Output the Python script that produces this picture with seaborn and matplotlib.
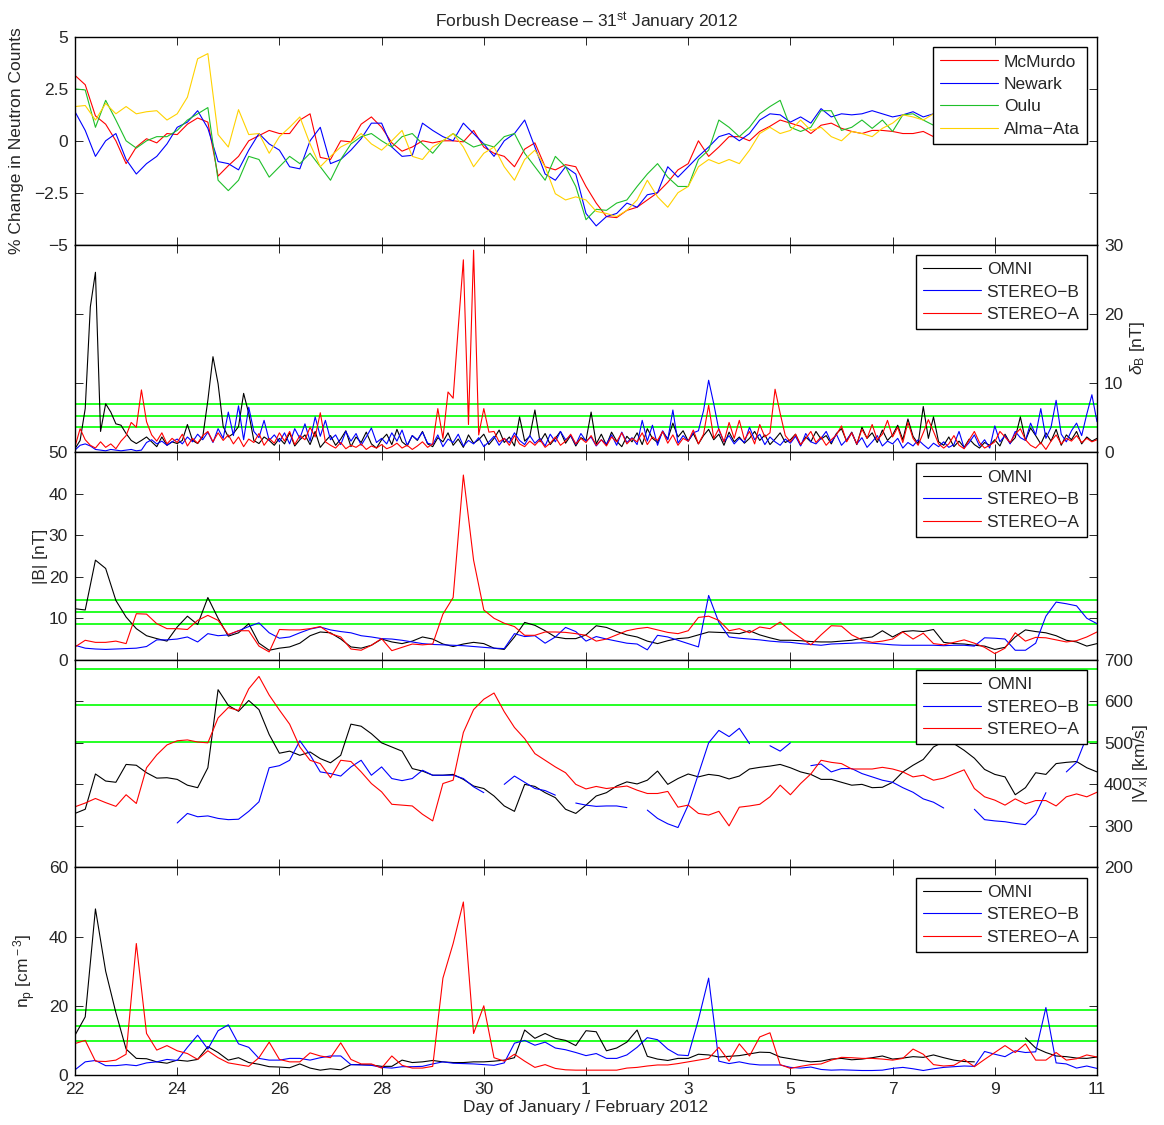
import numpy as np
import pandas as pd
import matplotlib
matplotlib.use('Agg')
from matplotlib import pyplot as plt
from matplotlib.lines import Line2D
import seaborn as sns

# Time axes (day of January 2012, Feb = 32..)
t_nm = np.round(np.arange(22.0, 39.001, 0.2), 1)
t_fine = np.round(np.arange(22.0, 42.001, 0.1), 1)
t_sw = np.round(np.arange(22.0, 42.001, 0.2), 1)

x_ticks = [22, 24, 26, 28, 30, 32, 34, 36, 38, 40, 42]
x_ticklabels = ['22', '24', '26', '28', '30', '1', '3', '5', '7', '9', '11']

# Panel 1: neutron monitor % change
mcmurdo = [
    3.15, 2.7, 1.2, 0.8, 0.0, -1.1, -0.3, 0.1, -0.1, 0.35,
    0.3, 0.8, 1.1, 0.9, -1.7, -1.2, -0.75, 0.0, 0.25, 0.5,
    0.35, 0.35, 1.0, 1.3, -0.8, -0.9, 0.0, -0.05, 0.8, 1.15,
    0.65, -0.1, -0.5, -0.3, 0.0, -0.1, 0.0, 0.0, -0.05, 0.5,
    -0.3, -0.6, -0.75, -1.25, -0.4, -0.1, -1.25, -1.4, -1.15, -1.25,
    -2.2, -3.0, -3.65, -3.7, -3.35, -3.2, -2.85, -2.5, -2.0, -1.4,
    -1.1, 0.0, -0.75, -0.3, 0.2, 0.2, 0.0, 0.45, 0.7, 1.0,
    0.85, 0.7, 0.35, 0.75, 0.85, 0.6, 0.45, 0.35, 0.5, 0.5,
    0.45, 0.35, 0.35, 0.45, 0.2, 0.0]
newark = [
    1.4, 0.5, -0.75, 0.0, 0.35, -0.9, -1.6, -1.1, -0.75, -0.15,
    0.65, 0.9, 1.45, 0.6, -1.0, -1.1, -1.4, -0.45, 0.35, -0.15,
    -0.45, -1.25, -1.35, 0.0, 0.65, -1.1, -0.9, -0.45, 0.1, 0.85,
    0.85, -0.3, -0.75, -0.7, 0.85, 0.5, 0.2, 0.0, 0.85, 0.35,
    -0.15, -0.75, 0.0, 0.35, 1.0, -0.3, -1.6, -1.9, -1.25, -1.6,
    -3.5, -4.1, -3.65, -3.5, -3.0, -3.2, -2.6, -2.5, -1.25, -1.75,
    -1.25, -0.75, -0.3, 0.2, 0.35, 0.0, 0.35, 1.0, 1.3, 1.25,
    0.9, 1.15, 0.85, 1.55, 1.15, 1.3, 1.25, 1.3, 1.45, 1.3,
    1.15, 1.25, 1.4, 1.15, 1.3, 1.25]
oulu = [
    2.5, 2.45, 0.65, 1.95, 1.0, 0.0, -0.35, 0.0, 0.2, 0.2,
    0.5, 1.0, 1.3, 1.6, -1.9, -2.4, -1.9, -0.75, -0.9, -1.75,
    -1.25, -0.75, -1.1, -0.6, -1.25, -1.9, -0.9, -0.15, 0.2, 0.35,
    0.0, -0.3, 0.2, 0.35, -0.15, -0.6, 0.0, 0.35, 0.0, -0.3,
    -0.15, -0.3, 0.2, 0.35, -0.6, -1.25, -1.9, -0.75, -1.25, -2.2,
    -3.8, -3.3, -3.35, -3.0, -2.85, -2.2, -1.6, -1.1, -1.75, -2.2,
    -2.2, -0.9, -0.45, 1.0, 0.65, 0.2, 0.65, 1.3, 1.65, 1.95,
    0.65, 0.45, 0.65, 1.45, 1.45, 0.5, 0.65, 1.0, 0.6, 1.0,
    0.45, 1.25, 1.3, 1.0, 0.75, 0.85]
alma_ata = [
    1.65, 1.7, 1.0, 1.8, 1.3, 1.65, 1.3, 1.4, 1.45, 1.0,
    1.3, 2.1, 3.95, 4.2, 0.3, -0.3, 1.5, 0.3, 0.35, -0.6,
    0.2, 0.65, 1.15, -0.15, -1.25, -0.75, -0.3, -0.05, 0.35, -0.15,
    -0.45, 0.0, 0.5, -0.75, -0.9, -0.3, 0.0, 0.35, -0.3, -1.25,
    -0.6, -0.3, -1.25, -1.9, -0.9, -0.45, -1.25, -2.55, -2.85, -2.7,
    -2.85, -3.4, -3.5, -3.65, -3.35, -2.85, -1.9, -2.7, -3.2, -2.5,
    -2.2, -1.25, -0.9, -1.1, -0.9, -1.1, -0.45, 0.35, 0.65, 0.35,
    0.5, 1.0, 0.5, 0.65, 0.2, 0.0, 0.45, 0.35, 0.2, 0.6,
    0.85, 1.25, 1.15, 1.0, 1.3, 1.15]

# Panel 2: delta B [nT] (0.1 day steps)
db_omni = [
    0.5, 1.7, 6.3, 21.0, 26.0, 3.0, 7.0, 5.8, 4.1, 3.9,
    2.7, 1.7, 1.25, 1.7, 2.2, 1.5, 0.8, 2.2, 1.0, 1.5,
    1.25, 1.7, 4.0, 1.7, 1.25, 2.2, 7.5, 13.8, 9.9, 3.7,
    2.2, 2.7, 3.7, 8.5, 5.6, 1.7, 1.25, 2.2, 1.7, 1.0,
    2.0, 1.2, 2.8, 0.9, 1.8, 2.5, 1.1, 3.0, 0.7, 1.6,
    2.4, 1.0, 1.9, 3.1, 0.8, 2.2, 1.4, 2.9, 1.2, 0.6,
    1.8, 2.6, 1.1, 3.3, 1.5, 0.9, 2.4, 1.7, 3.0, 1.2,
    0.8, 2.1, 1.5, 2.8, 1.0, 1.9, 0.7, 2.5, 1.3, 1.8,
    2.6, 1.1, 2.0, 3.2, 1.4, 2.2, 0.9, 5.1, 1.6, 2.3,
    6.1, 1.5, 2.7, 1.1, 2.0, 3.0, 1.3, 2.4, 0.9, 2.1,
    1.7, 5.8, 1.2, 2.6, 1.0, 2.9, 1.6, 0.8, 2.3, 1.5,
    2.8, 1.1, 3.4, 2.0, 1.4, 3.0, 1.9, 4.2, 2.2, 3.1,
    1.6, 2.7, 1.2, 2.4, 3.3, 1.8, 2.6, 1.0, 2.9, 1.5,
    2.2, 1.3, 2.0, 3.0, 1.7, 2.5, 1.1, 1.9, 2.8, 1.4,
    1.8, 2.6, 1.0, 2.2, 1.5, 3.0, 1.9, 2.4, 1.2, 2.7,
    3.4, 1.6, 2.9, 1.1, 3.6, 2.0, 2.8, 1.4, 3.2, 1.7,
    2.5, 3.9, 1.8, 4.8, 2.3, 1.2, 6.6, 2.0, 5.1, 1.5,
    1.0, 2.2, 0.8, 1.6, 0.7, 1.9, 1.1, 0.6, 1.4, 1.0,
    1.8, 0.9, 2.6, 1.3, 2.1, 5.1, 1.7, 3.5, 2.4, 1.2,
    2.8, 1.6, 3.3, 1.0, 2.5, 1.8, 3.0, 1.2, 2.2, 1.6,
    2.0]
db_stb = [
    0.3, 1.0, 1.2, 0.9, 0.4, 0.3, 0.2, 0.4, 0.3, 0.2,
    0.3, 0.4, 0.2, 0.3, 1.4, 1.8, 1.2, 1.6, 1.0, 1.5,
    1.9, 1.2, 2.2, 1.5, 2.6, 1.8, 2.9, 1.4, 3.4, 2.0,
    5.8, 2.4, 6.7, 1.8, 6.5, 3.0, 2.1, 4.6, 1.7, 2.5,
    1.5, 2.8, 1.2, 3.4, 2.0, 4.1, 1.6, 5.1, 2.3, 4.6,
    1.8, 2.5, 1.1, 3.0, 1.6, 2.7, 1.0, 2.2, 3.5, 1.4,
    2.0, 1.2, 2.8, 1.6, 3.2, 1.0, 2.4, 1.8, 2.9, 1.3,
    1.1, 2.5, 0.8, 1.9, 1.4, 2.6, 0.9, 1.7, 1.2, 2.1,
    0.8, 1.5, 2.3, 1.0, 2.0, 1.4, 2.8, 1.7, 1.1, 2.4,
    1.3, 2.0, 0.9, 2.6, 1.5, 3.0, 1.8, 2.4, 1.1, 2.7,
    1.6, 2.2, 0.9, 1.8, 1.2, 2.5, 1.0, 2.9, 1.4, 2.1,
    1.1, 4.6, 1.6, 3.9, 1.0, 3.1, 1.8, 6.1, 1.3, 2.4,
    1.6, 2.8, 3.1, 6.0, 10.4, 7.0, 3.2, 1.5, 2.4, 1.2,
    2.0, 1.4, 3.6, 1.8, 2.6, 1.1, 2.2, 1.5, 1.0, 1.9,
    1.3, 2.3, 0.9, 2.7, 1.5, 1.2, 2.0, 3.0, 1.4, 2.6,
    1.0, 1.8, 2.8, 1.2, 2.1, 0.7, 1.5, 2.4, 0.9, 1.6,
    1.2, 2.0, 0.6, 1.4, 0.9, 1.8, 1.1, 0.5, 1.3, 0.8,
    1.5, 0.7, 1.1, 3.0, 0.6, 1.4, 2.5, 0.9, 1.8, 0.6,
    3.8, 1.5, 2.4, 1.2, 3.0, 2.1, 1.7, 4.2, 2.5, 6.3,
    2.0, 3.6, 7.5, 2.6, 1.5, 3.1, 4.2, 2.4, 5.5, 8.3,
    4.4]
db_sta = [
    0.8, 3.4, 1.8, 1.0, 0.6, 1.5, 0.7, 1.2, 0.5, 1.6,
    2.4, 4.3, 3.6, 9.0, 4.4, 2.5, 1.6, 2.8, 1.2, 2.0,
    1.4, 2.6, 0.9, 2.0, 1.3, 2.4, 3.0, 1.5, 2.8, 1.7,
    2.5, 1.2, 2.2, 0.8, 1.9, 1.4, 2.7, 1.0, 2.0, 1.3,
    2.8, 1.6, 3.0, 1.1, 2.4, 1.8, 3.6, 2.2, 5.7, 1.5,
    1.0, 0.6, 1.4, 0.5, 1.0, 0.7, 1.2, 0.4, 0.9, 0.6,
    1.1, 0.5, 0.8, 1.3, 0.6, 1.0, 0.4, 0.9, 1.5, 0.7,
    1.2, 6.3, 2.0, 8.7, 7.8, 18.0, 27.8, 4.0, 29.2, 2.5,
    6.3, 2.9, 3.0, 1.5, 2.0, 1.0, 2.4, 1.2, 0.8, 1.6,
    1.0, 1.8, 0.7, 1.3, 2.2, 1.0, 1.6, 2.6, 1.2, 2.0,
    1.4, 2.4, 1.0, 1.8, 0.9, 2.2, 1.5, 2.8, 1.2, 2.0,
    1.5, 2.8, 1.1, 2.2, 1.7, 3.0, 1.3, 2.5, 1.0, 2.0,
    1.6, 3.2, 1.2, 2.6, 6.8, 2.0, 3.4, 1.5, 4.3, 2.0,
    4.6, 1.8, 3.0, 1.2, 4.0, 2.2, 2.8, 9.1, 5.6, 2.4,
    1.5, 2.6, 1.1, 2.0, 3.0, 1.4, 2.2, 1.0, 1.8, 2.5,
    3.8, 1.5, 2.8, 1.2, 3.3, 2.0, 4.0, 1.8, 2.6, 4.6,
    2.2, 3.6, 1.4, 4.3, 2.0, 1.0, 2.8, 4.7, 3.0, 1.2,
    0.6, 1.2, 2.4, 1.0, 0.5, 1.8, 3.0, 1.4, 0.6, 1.0,
    1.5, 3.0, 2.2, 1.4, 2.6, 3.4, 1.8, 1.0, 0.6, 1.4,
    0.4, 1.6, 2.5, 1.2, 2.0, 1.6, 2.4, 1.4, 2.0, 1.5,
    1.8]

# Panel 3: |B| [nT]
b_omni = [
    12.3, 12.0, 24.0, 22.0, 14.3, 10.3, 7.5, 5.8, 5.1, 4.5,
    7.9, 10.5, 8.5, 15.0, 10.0, 5.7, 6.5, 8.7, 4.0, 2.3,
    2.8, 3.1, 4.0, 5.8, 6.7, 6.5, 5.0, 3.1, 2.8, 3.5,
    5.0, 4.3, 3.9, 4.5, 5.5, 5.0, 3.8, 3.2, 3.8, 4.2,
    3.9, 2.8, 2.5, 5.5, 9.0, 8.3, 7.0, 5.5, 5.1, 5.1,
    6.0, 8.2, 7.8, 6.8, 6.0, 5.5, 4.5, 3.9, 4.6, 5.1,
    5.3, 6.0, 6.7, 6.6, 6.5, 6.3, 7.0, 6.0, 5.3, 4.7,
    4.7, 4.6, 4.4, 4.3, 4.3, 4.5, 4.7, 5.2, 5.5, 7.0,
    5.5, 6.8, 7.0, 6.8, 7.3, 4.2, 3.9, 3.8, 3.5, 3.3,
    2.5, 3.0, 5.5, 7.2, 6.8, 6.5, 5.8, 4.7, 4.3, 3.3,
    3.9]
b_stb = [
    3.5, 2.8, 2.6, 2.5, 2.6, 2.7, 2.8, 3.2, 4.8, 4.8,
    5.0, 5.5, 4.3, 6.3, 5.8, 6.0, 7.0, 8.0, 8.9, 6.5,
    5.2, 5.5, 6.5, 7.4, 7.9, 7.2, 6.8, 6.5, 5.8, 5.5,
    5.1, 5.0, 4.7, 4.3, 3.9, 3.7, 3.6, 3.5, 3.4, 3.2,
    3.0, 2.8, 2.7, 6.3, 5.6, 5.8, 4.0, 5.5, 7.8, 6.8,
    4.5, 5.6, 5.0, 4.5, 4.0, 3.8, 2.4, 5.9, 5.5, 4.7,
    3.9, 3.1, 15.5, 9.0, 5.5, 5.2, 5.0, 4.8, 4.5, 4.3,
    4.2, 3.9, 3.7, 3.5, 3.8, 3.9, 4.0, 4.1, 4.0, 3.8,
    3.6, 3.5, 3.5, 3.5, 3.5, 3.4, 3.5, 3.5, 3.3, 5.3,
    5.2, 5.0, 2.3, 2.3, 4.0, 10.5, 13.9, 13.5, 13.0, 10.0,
    8.7]
b_sta = [
    3.1, 4.7, 4.2, 4.2, 4.5, 3.9, 11.1, 11.0, 8.7, 7.5,
    7.5, 7.3, 9.5, 10.7, 9.5, 6.1, 7.0, 7.0, 3.3, 1.9,
    7.3, 7.2, 7.2, 7.5, 8.0, 6.3, 5.5, 2.6, 2.3, 3.5,
    5.1, 2.2, 3.0, 3.8, 3.6, 3.8, 11.0, 15.0, 44.5, 24.0,
    12.0, 10.0, 8.8, 8.0, 5.9, 5.9, 6.7, 6.7, 6.6, 6.3,
    5.9, 4.5, 5.0, 6.0, 7.0, 7.5, 7.8, 7.2, 6.6, 6.3,
    7.0, 10.2, 10.5, 9.5, 7.0, 7.5, 6.5, 7.9, 7.5, 9.1,
    7.0, 5.3, 3.6, 6.0, 8.2, 8.1, 6.0, 4.8, 4.2, 4.5,
    5.0, 6.7, 5.0, 6.4, 3.9, 3.6, 4.2, 4.8, 4.0, 3.0,
    1.5, 2.8, 6.5, 4.5, 5.4, 5.3, 4.8, 4.3, 4.6, 5.5,
    6.7]

# Panel 4: |Vx| [km/s]  (nan = data gap)
nan = np.nan
v_omni = [
    330, 340, 425, 408, 405, 448, 446, 428, 415, 416,
    412, 398, 392, 440, 628, 590, 576, 602, 580, 520,
    475, 480, 470, 478, 462, 452, 470, 545, 540, 522,
    500, 490, 480, 438, 432, 422, 422, 424, 412, 396,
    390, 372, 348, 335, 400, 395, 380, 368, 340, 330,
    350, 372, 380, 396, 406, 401, 410, 432, 400, 414,
    425, 418, 424, 421, 413, 420, 437, 441, 444, 448,
    440, 430, 424, 412, 412, 405, 398, 400, 392, 393,
    405, 430, 446, 460, 490, 503, 498, 482, 463, 436,
    424, 418, 375, 392, 428, 424, 450, 453, 455, 440,
    430]
v_stb = [
    nan, nan, 385, nan, nan, nan, nan, 348, nan, nan,
    307, 330, 322, 324, 318, 315, 316, 335, 358, 440,
    445, 458, 505, 471, 430, 426, 420, 442, 458, 422,
    442, 414, 409, 414, 434, 422, 422, 422, 414, 394,
    380, nan, 400, 420, 405, 390, 385, 374, nan, 355,
    350, 347, 348, 348, 344, nan, 338, 318, 305, 296,
    350, 425, 500, 530, 515, 535, 498, nan, 493, 480,
    500, nan, 445, 449, 430, 438, 438, 426, 418, 410,
    405, 392, 381, 365, 357, 343, nan, nan, 340, 315,
    312, 310, 306, 303, 328, 380, nan, 430, 453, 515,
    nan]
v_sta = [
    346, 355, 366, 356, 347, 375, 354, 440, 471, 495,
    505, 507, 502, 500, 560, 585, 578, 630, 660, 615,
    579, 545, 490, 458, 450, 416, 458, 455, 430, 402,
    382, 352, 350, 348, 328, 312, 402, 410, 525, 580,
    605, 620, 575, 537, 510, 474, 458, 442, 428, 400,
    389, 395, 390, 393, 396, 386, 378, 378, 383, 345,
    350, 330, 326, 335, 300, 345, 348, 352, 370, 398,
    375, 402, 425, 458, 453, 450, 437, 437, 437, 441,
    437, 430, 418, 422, 410, 415, 425, 435, 390, 370,
    362, 350, 365, 353, 361, 361, 348, 370, 377, 370,
    381]

# Panel 5: proton density [cm^-3]
np_omni = [
    11.5, 16.8, 48.0, 30.0, 18.0, 7.5, 4.8, 4.7, 3.8, 3.4,
    4.3, 4.0, 4.5, 8.2, 6.5, 4.3, 5.0, 3.6, 3.1, 2.4,
    2.3, 2.1, 3.2, 2.0, 1.4, 1.8, 1.5, 3.0, 3.0, 2.9,
    2.5, 2.5, 4.3, 3.6, 3.8, 4.2, 3.8, 3.6, 3.6, 3.8,
    3.8, 4.0, 4.3, 5.0, 13.0, 10.6, 12.0, 10.6, 10.0, 8.5,
    12.8, 12.5, 7.0, 7.8, 9.5, 13.0, 5.4, 4.6, 4.2, 4.8,
    4.8, 6.0, 5.8, 5.2, 5.4, 5.6, 6.1, 6.6, 6.5, 5.2,
    4.7, 4.2, 3.8, 4.0, 4.6, 4.8, 4.4, 4.6, 5.0, 5.5,
    4.6, 4.9, 5.3, 5.1, 5.8, 5.0, 4.3, 3.9, 3.8, nan,
    nan, nan, nan, 10.7, 7.8, 6.5, 5.5, 5.3, 4.9, 4.8,
    5.2]
np_stb = [
    1.5, 3.8, 4.2, 2.7, 2.7, 3.0, 2.7, 3.5, 3.8, 4.5,
    4.2, 8.0, 11.5, 7.5, 12.8, 14.5, 9.0, 8.0, 4.8, 4.3,
    4.3, 4.8, 4.8, 4.3, 5.0, 5.5, 5.5, 3.0, 2.9, 2.8,
    2.2, 2.0, 2.4, 2.4, 2.5, 3.2, 3.8, 3.4, 3.3, 3.2,
    3.0, 2.8, 3.5, 9.2, 10.0, 8.6, 9.5, 7.8, 7.3, 6.5,
    5.6, 6.2, 4.8, 4.8, 5.8, 8.0, 10.8, 10.2, 7.5, 5.8,
    5.6, 16.0, 28.0, 4.0, 3.3, 3.8, 3.2, 2.9, 2.9, 2.9,
    2.2, 2.0, 2.3, 1.6, 1.4, 1.5, 1.4, 1.3, 1.3, 1.4,
    1.9, 2.2, 1.8, 1.3, 1.8, 2.2, 2.4, 2.6, 2.5, 6.8,
    6.0, 5.3, 7.0, 6.5, 6.7, 19.5, 3.5, 3.2, 2.0, 2.6,
    1.9]
np_sta = [
    9.1, 10.0, 4.0, 3.9, 4.3, 6.0, 38.0, 12.0, 7.2, 8.5,
    7.0, 6.2, 4.5, 7.0, 5.0, 3.5, 3.0, 2.5, 5.0, 9.5,
    4.5, 3.8, 3.8, 6.4, 5.5, 5.0, 9.3, 4.5, 3.2, 3.2,
    2.0, 5.5, 2.8, 2.0, 2.0, 2.5, 28.0, 38.0, 50.0, 12.0,
    20.0, 5.0, 4.0, 6.0, 4.0, 2.2, 3.0, 1.9, 1.5, 1.4,
    1.4, 1.4, 1.4, 1.4, 2.0, 2.2, 2.6, 2.9, 2.9, 3.3,
    3.8, 4.3, 4.8, 8.0, 4.0, 9.0, 5.5, 11.0, 12.2, 3.0,
    1.9, 2.5, 3.0, 3.2, 4.3, 5.1, 5.0, 4.8, 4.8, 4.6,
    4.3, 4.8, 7.5, 6.0, 3.0, 2.6, 2.8, 4.5, 2.4, 4.5,
    6.5, 8.5, 6.5, 9.0, 4.3, 4.3, 6.5, 4.3, 4.7, 5.8,
    5.2]

# Reference levels (green lines)
db_levels = [3.6, 5.2, 6.9]
b_levels = [8.6, 11.4, 14.35]
v_levels = [503, 591, 679]
np_levels = [9.9, 14.3, 18.7]

nm_names = ['McMurdo', 'Newark', 'Oulu', 'Alma\u2212Ata']
nm_colors = ['#ff0000', '#0000ff', '#1fbf2a', '#ffd200']
sc_names = ['OMNI', 'STEREO\u2212B', 'STEREO\u2212A']
sc_colors = ['#000000', '#0000ff', '#ff0000']

sns.set_style('white')
plt.rcParams['font.family'] = ['Liberation Sans', 'DejaVu Sans']
plt.rcParams['font.size'] = 12
plt.rcParams['mathtext.fontset'] = 'custom'
plt.rcParams['mathtext.rm'] = 'Liberation Sans'
plt.rcParams['mathtext.it'] = 'Liberation Sans:italic'
plt.rcParams['axes.linewidth'] = 1.0
plt.rcParams['axes.edgecolor'] = 'black'


def long_frame(t, series, names):
    frames = []
    for name, vals in zip(names, series):
        v = np.asarray(vals, dtype=float)
        frames.append(pd.DataFrame({'day': t, 'value': v, 'series': name,
                                    'seg': np.cumsum(np.isnan(v))}))
    return pd.concat(frames, ignore_index=True).dropna()


def draw_panel(ax, t, series, names, colors, ylim, yticks, ytick_labels,
               side, levels=None):
    df = long_frame(t, series, names)
    sns.lineplot(data=df, x='day', y='value', hue='series', units='seg',
                 estimator=None, sort=False, hue_order=names,
                 palette=dict(zip(names, colors)), linewidth=0.8,
                 legend=False, ax=ax, zorder=2)
    if levels is not None:
        for lv in levels:
            ax.axhline(lv, color='#00ff00', lw=1.2, zorder=1.5)
    ax.set_xlim(22, 42)
    ax.set_ylim(*ylim)
    ax.set_xticks(x_ticks)
    ax.set_yticks(yticks)
    ax.set_yticklabels(ytick_labels)
    ax.set_xlabel('')
    ax.set_ylabel('')
    ax.tick_params(axis='both', which='both', direction='in', length=6,
                   width=0.7, top=True, bottom=True, left=True, right=True,
                   labelsize=12.5, pad=5,
                   labelleft=(side == 'left'), labelright=(side == 'right'),
                   labelbottom=False)
    if side == 'right':
        ax.yaxis.set_label_position('right')
    handles = [Line2D([], [], color=c, lw=0.8) for c in colors]
    leg = ax.legend(handles, names, loc='upper right', fontsize=12.5,
                    frameon=True, fancybox=False, edgecolor='black',
                    framealpha=1, handlelength=3.3, handletextpad=0.35,
                    borderpad=0.4, labelspacing=0.42, borderaxespad=0.6)
    leg.get_frame().set_linewidth(1.0)
    for s in ax.spines.values():
        s.set_visible(True)
        s.set_color('black')


fig = plt.figure(figsize=(11.64, 11.25), dpi=100)
left, width = 75 / 1164, 1022 / 1164
h = 207.6 / 1125
base = 50 / 1125
axes = [fig.add_axes([left, base + (4 - i) * h, width, h]) for i in range(5)]

draw_panel(axes[0], t_nm, [mcmurdo, newark, oulu, alma_ata], nm_names,
           nm_colors, (-5, 5), [-5, -2.5, 0, 2.5, 5],
           ['\u22125', '\u22122.5', '0', '2.5', '5'], 'left')
draw_panel(axes[1], t_fine, [db_omni, db_stb, db_sta], sc_names, sc_colors,
           (0, 30), [0, 10, 20, 30], ['0', '10', '20', '30'], 'right',
           db_levels)
draw_panel(axes[2], t_sw, [b_omni, b_stb, b_sta], sc_names, sc_colors,
           (0, 50), [0, 10, 20, 30, 40, 50],
           ['0', '10', '20', '30', '40', '50'], 'left', b_levels)
draw_panel(axes[3], t_sw, [v_omni, v_stb, v_sta], sc_names, sc_colors,
           (200, 700), [200, 300, 400, 500, 600, 700],
           ['200', '300', '400', '500', '600', '700'], 'right', v_levels)
draw_panel(axes[4], t_sw, [np_omni, np_stb, np_sta], sc_names, sc_colors,
           (0, 60), [0, 20, 40, 60], ['0', '20', '40', '60'], 'left',
           np_levels)

axes[4].tick_params(labelbottom=True)
axes[4].set_xticklabels(x_ticklabels)
axes[4].set_xlabel('Day of January / February 2012', fontsize=12.5,
                   labelpad=2)

axes[0].set_title('Forbush Decrease \u2013 31$^{\\rm st}$ January 2012',
                  fontsize=12.5, pad=7)
axes[0].set_ylabel('% Change in Neutron Counts', fontsize=12.5)
axes[1].set_ylabel('$\\delta_{\\rm B}$ [nT]', fontsize=12.5)
axes[2].set_ylabel('|B| [nT]', fontsize=12.5)
axes[3].set_ylabel('|V$_{\\rm x}$| [km/s]', fontsize=12.5)
axes[4].set_ylabel('n$_{\\rm p}$ [cm$^{\\rm \u22123}$]', fontsize=12.5)

axes[0].yaxis.set_label_coords(-0.050, 0.5)
axes[2].yaxis.set_label_coords(-0.026, 0.5)
axes[4].yaxis.set_label_coords(-0.036, 0.5)
axes[1].yaxis.set_label_coords(1.030, 0.5)
axes[3].yaxis.set_label_coords(1.033, 0.5)

fig.savefig('out.png', dpi=100)
